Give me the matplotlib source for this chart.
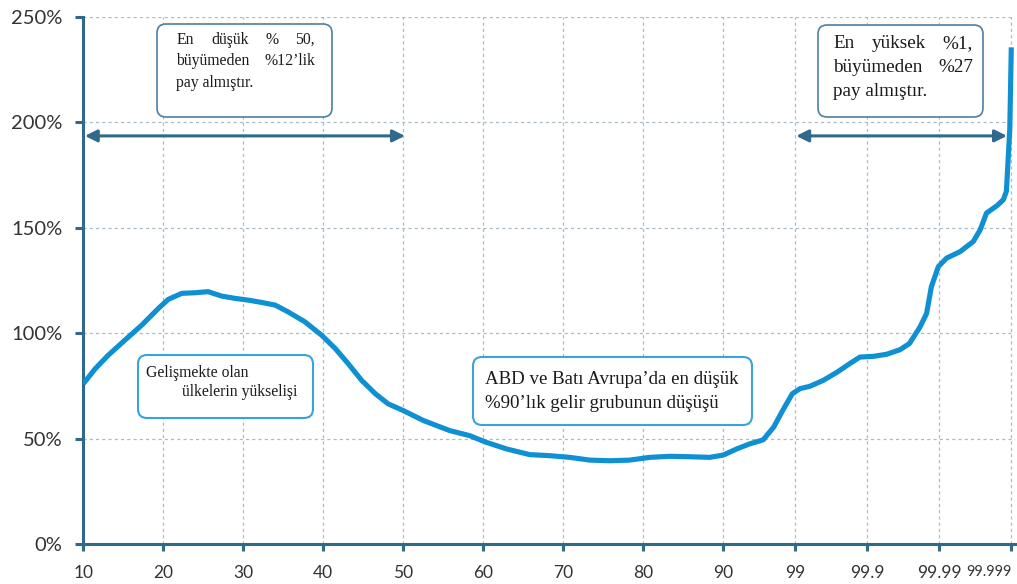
import numpy as np
import matplotlib
matplotlib.use("Agg")
import matplotlib.pyplot as plt
from matplotlib.patches import FancyBboxPatch
from matplotlib.ticker import NullLocator

# ---------------- data ----------------
percentile = [10, 11.5, 13.1, 15.2, 17.3, 19.4, 20.6, 22.3, 24.0, 25.6, 27.3, 29.0,
              30.6, 32.3, 34.0, 35.6, 37.7, 39.8, 41.5, 43.1, 44.8, 46.5, 48.1, 50,
              52.5, 55.8, 58.3, 60.4, 62.9, 65.8, 68.3, 70.8, 73.3, 75.8, 78.3, 80.8,
              83.3, 85.8, 88.3, 90, 93.5, 95.7, 97.2, 98.0, 98.5, 98.9,
              99.14, 99.37, 99.59, 99.74, 99.825, 99.874,
              99.917, 99.946, 99.965, 99.974, 99.9815, 99.985,
              99.9871, 99.9897, 99.99206, 99.99486, 99.99663, 99.99729,
              99.99779, 99.99842, 99.99871, 99.99883, 99.99895, 99.999]
growth = [76.0, 83.2, 89.5, 96.7, 103.8, 111.8, 116.0, 118.9, 119.2, 119.7, 117.6, 116.5,
          115.7, 114.6, 113.3, 110.1, 105.4, 99.0, 92.7, 85.6, 77.6, 71.3, 66.5, 63.3,
          58.6, 53.8, 51.4, 48.2, 45.1, 42.4, 41.9, 41.1, 39.8, 39.5, 39.8, 41.1,
          41.6, 41.4, 41.1, 42.2, 45.1, 47.5, 49.4, 55.4, 63.3, 71.3,
          73.7, 74.8, 77.6, 81.6, 85.6, 88.7,
          89.0, 90.0, 92.2, 95.1, 103.0, 109.4,
          122.0, 131.6, 135.6, 138.7, 143.5, 149.0,
          157.0, 160.5, 163.3, 167.3, 196.7, 235.6]

x_ticks = [10, 20, 30, 40, 50, 60, 70, 80, 90, 99, 99.9, 99.99, 99.999]
x_tick_labels = ["10", "20", "30", "40", "50", "60", "70", "80", "90",
                 "99", "99.9", "99.99", "99.999"]
y_ticks = [0, 50, 100, 150, 200, 250]
y_tick_labels = ["0%", "50%", "100%", "150%", "200%", "250%"]

box_top_left = "En düşük % 50,\nbüyümeden %12’lik\npay almıştır."
box_top_right = "En yüksek %1,\nbüyümeden %27\npay almıştır."
box_emerging = ["Gelişmekte olan", "ülkelerin yükselişi"]
box_west = ["ABD ve Batı Avrupa’da en düşük", "%90’lık gelir grubunun düşüşü"]

# ---------------- scale ----------------
def fwd(p):
    p = np.asarray(p, dtype=float)
    with np.errstate(all="ignore"):
        low = (p - 10.0) / 10.0
        tail = np.clip(100.0 - p, 1e-12, None)
        high = 8.0 + 0.9 * (1.0 - np.log10(tail))
    return np.where(p <= 90, low, high)


def inv(x):
    x = np.asarray(x, dtype=float)
    with np.errstate(all="ignore"):
        low = 10.0 + 10.0 * x
        high = 100.0 - 10.0 ** (1.0 - (np.clip(x, 8, 20) - 8.0) / 0.9)
    return np.where(x <= 8, low, high)


W, H = 1017, 584
fig = plt.figure(figsize=(W / 100, H / 100), dpi=100)
ax = fig.add_axes([83.3 / W, 40 / H, 932 / W, 527 / H])
ax.set_xscale("function", functions=(fwd, inv))
ax.set_xlim(10, float(inv(11.65)))
ax.set_ylim(0, 250)

spine_c = "#2F6A8D"
grid_c = "#A9BAC8"
line_c = "#0E90D2"

ax.plot(percentile, growth, color=line_c, lw=3.7, solid_joinstyle="round",
        solid_capstyle="butt", zorder=3)

ax.set_xticks(x_ticks)
ax.set_xticklabels(x_tick_labels)
ax.xaxis.set_minor_locator(NullLocator())
ax.set_yticks(y_ticks)
ax.set_yticklabels(y_tick_labels)
ax.yaxis.set_minor_locator(NullLocator())

for s in ["top", "right"]:
    ax.spines[s].set_visible(False)
for s in ["left", "bottom"]:
    ax.spines[s].set_color(spine_c)
    ax.spines[s].set_linewidth(2.2)

ax.tick_params(axis="y", direction="out", length=6, width=2.2, color=spine_c,
               pad=9, labelsize=14.5, labelcolor="#333333")
ax.tick_params(axis="x", direction="out", length=5, width=2.2, color=spine_c,
               pad=10, labelsize=12.5, labelcolor="#333333")
for lab in ax.get_xticklabels() + ax.get_yticklabels():
    lab.set_family("Lato")
last = ax.get_xticklabels()[-1]
last.set_fontsize(10.5)
last.set_horizontalalignment("right")

ax.grid(True, color=grid_c, linestyle=(0, (2.5, 2.5)), linewidth=0.9)
ax.set_axisbelow(True)

# arrows
arrow_kw = dict(arrowstyle="<|-|>", color=spine_c, lw=2.2, mutation_scale=18,
                shrinkA=0, shrinkB=0)
ax.annotate("", xy=(10.2, 193.6), xytext=(50.2, 193.6), arrowprops=arrow_kw,
            zorder=4)
ax.annotate("", xy=(99.03, 193.6), xytext=(99.99885, 193.6), arrowprops=arrow_kw,
            zorder=4)

# ---------------- boxes (pixel coords from top-left) ----------------
T = fig.dpi_scale_trans


def box(x0, y0, x1, y1, ec, lw=1.2):
    p = FancyBboxPatch((x0 / 100, (H - y1) / 100), (x1 - x0) / 100, (y1 - y0) / 100,
                       boxstyle="round,pad=0,rounding_size=0.09", transform=T,
                       facecolor="white", edgecolor=ec, linewidth=lw, zorder=5)
    fig.add_artist(p)


def txt(x, y, s, size):
    return fig.text(x / 100, (H - y) / 100, s, transform=T, fontsize=size,
                    family="Liberation Serif", color="#1a1a1a", ha="left",
                    va="baseline", zorder=6)


renderer = fig.canvas.get_renderer()


def justified(text, x_left, x_right, y0, dy, size, justify_last=False):
    lines = text.split("\n")
    for i, line in enumerate(lines):
        y = y0 + i * dy
        words = line.split(" ")
        if (i == len(lines) - 1 and not justify_last) or len(words) == 1:
            txt(x_left, y, line, size)
            continue
        ts = [txt(0, y, w, size) for w in words]
        ws = [t.get_window_extent(renderer).width for t in ts]
        gap = (x_right - x_left - sum(ws)) / (len(words) - 1)
        x = x_left
        for t, w in zip(ts, ws):
            t.set_x(x / 100)
            x += w + gap


box(157, 24, 332, 117, "#4F7EA1")
justified(box_top_left, 176.5, 315, 43.5, 21.5, 11.3)

box(818, 25, 983, 117, "#4F7EA1")
justified(box_top_right, 833, 973, 48.5, 24, 13.8)

box(138, 355, 313, 418, "#3AA3DC", lw=1.5)
txt(146.5, 377, box_emerging[0], 11.3)
txt(181.5, 396.5, box_emerging[1], 11.3)

box(473, 357, 752, 425, "#3AA3DC", lw=1.5)
txt(485, 383.5, box_west[0], 13.6)
txt(485, 408.5, box_west[1], 13.6)

fig.savefig("out.png", dpi=100)
